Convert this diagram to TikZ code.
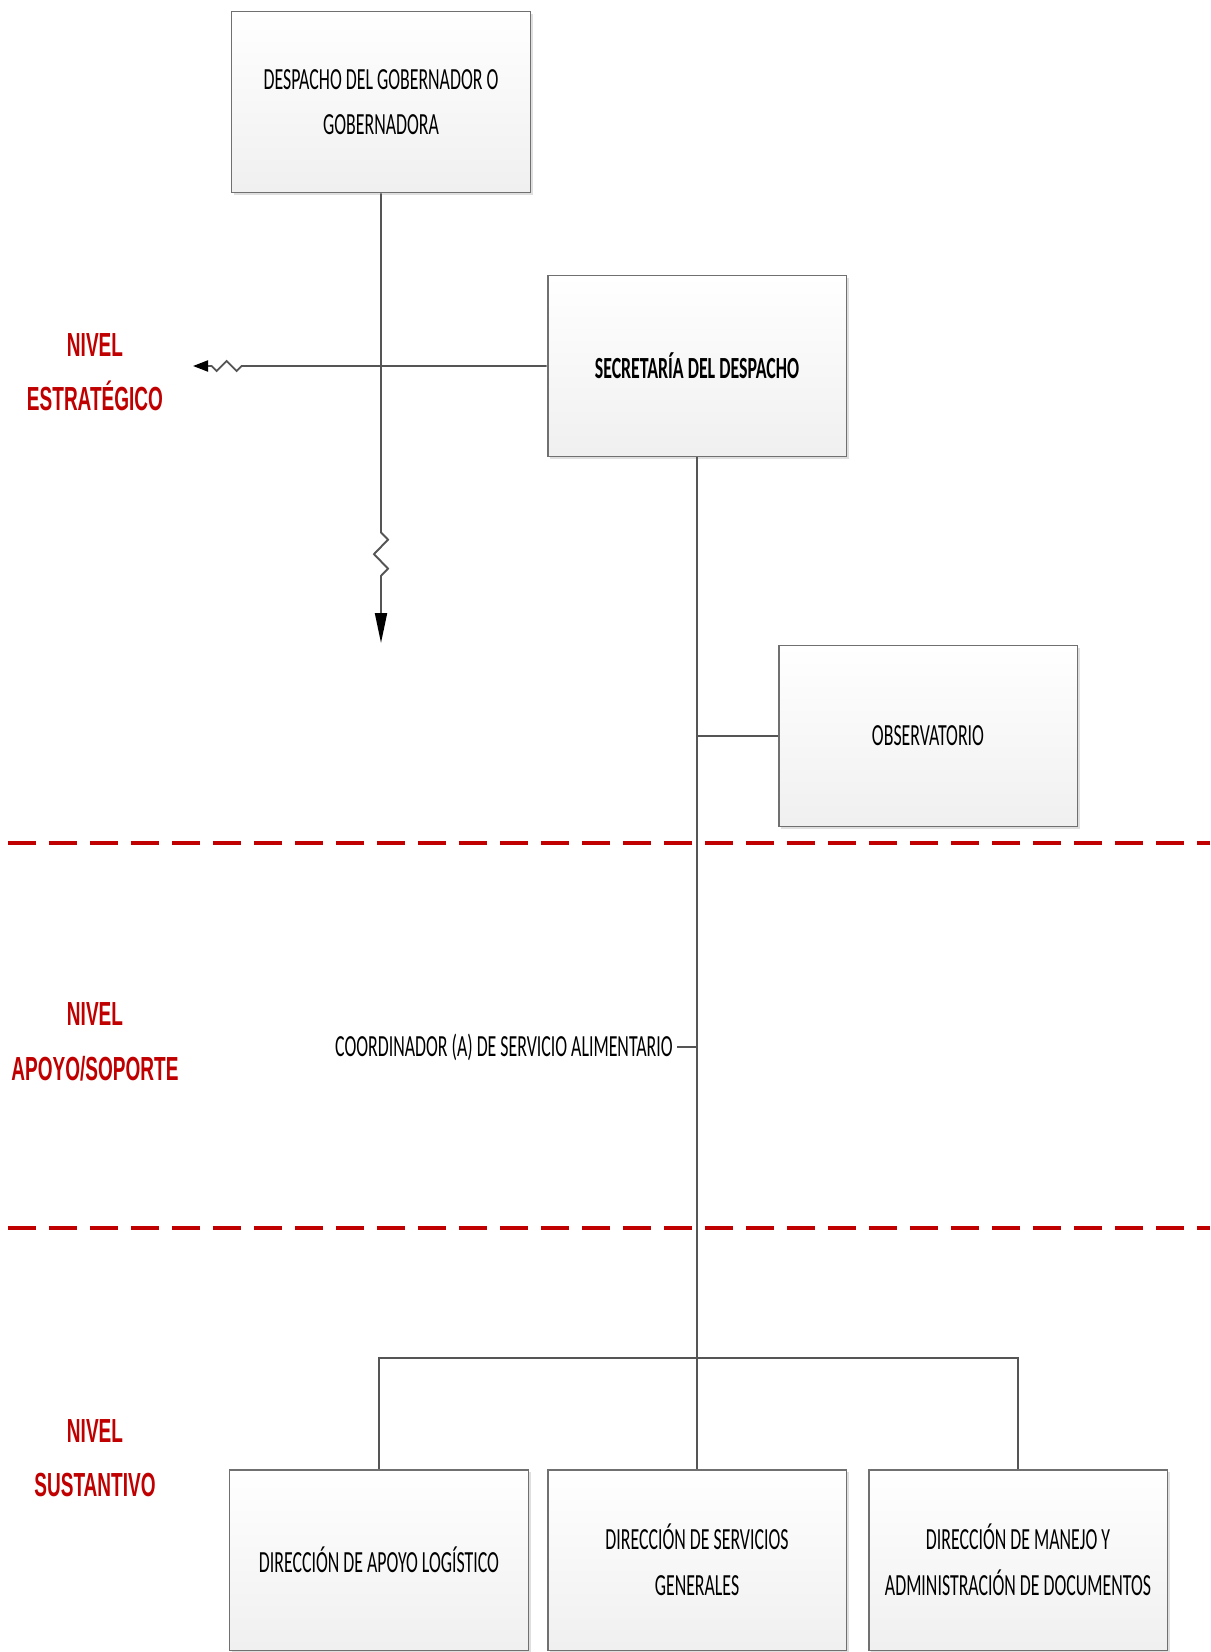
\documentclass[tikz,border=0pt]{standalone}
\usepackage{fontspec}
\setmainfont{Carlito}
\newfontfamily\narrowfont[FakeStretch=0.58]{Carlito}
\newfontfamily\levelfont[FakeStretch=0.57]{Liberation Sans}
\usetikzlibrary{arrows.meta, decorations.pathmorphing, shadows}
\definecolor{levelred}{RGB}{192,0,0}
\definecolor{boxline}{RGB}{112,112,112}
\definecolor{linkline}{RGB}{85,85,85}

\begin{document}
\begin{tikzpicture}[x=0.02cm, y=-0.02cm,
    unit box/.style={rectangle, draw=boxline, line width=1.1pt, top color=white, bottom color=black!6,
        minimum width=5.98cm, minimum height=3.62cm, align=center,
        font=\narrowfont\fontsize{17.5}{26}\selectfont,
        drop shadow={shadow xshift=1.2pt, shadow yshift=-1.2pt, opacity=0.25}},
    level label/.style={align=center, text=levelred, font=\levelfont\bfseries\fontsize{19}{31}\selectfont},
    link/.style={draw=linkline, line width=1.1pt},
    level line/.style={draw=levelred, line width=2.8pt, dash pattern=on 0.56cm off 0.26cm}]

    \useasboundingbox (0,0) rectangle (1210,1652);

    % Units
    \node[unit box] (gob) at (381,102) {DESPACHO DEL GOBERNADOR O\\GOBERNADORA};
    \node[unit box] (sec) at (697,366) {\bfseries SECRETARÍA DEL DESPACHO};
    \node[unit box] (obs) at (928,736) {OBSERVATORIO};
    \node[unit box] (log) at (379,1560) {DIRECCIÓN DE APOYO LOGÍSTICO};
    \node[unit box] (serv) at (697,1560) {DIRECCIÓN DE SERVICIOS\\GENERALES};
    \node[unit box] (doc) at (1018,1560) {DIRECCIÓN DE MANEJO Y\\ADMINISTRACIÓN DE DOCUMENTOS};

    \node[anchor=east, inner sep=0pt, font=\narrowfont\fontsize{17.5}{26}\selectfont] (coord) at (673,1047)
        {COORDINADOR (A) DE SERVICIO ALIMENTARIO};

    % Levels
    \node[level label] (estr) at (95,372) {NIVEL\\ESTRATÉGICO};
    \node[level label] (apoyo) at (95,1042) {NIVEL\\APOYO/SOPORTE};
    \node[level label] (sust) at (95,1458) {NIVEL\\SUSTANTIVO};

    \draw[level line] (8,843) -- (1210,843);
    \draw[level line] (8,1228) -- (1210,1228);

    % Connections
    \coordinate (gobtip) at (381,643);
    \coordinate (sectip) at (193,366);
    \coordinate (busmid) at (697,1358);

    \draw[link, -{Triangle[length=0.6cm, width=0.24cm, color=black]}, decorate,
        decoration={zigzag, amplitude=0.14cm, segment length=0.58cm, pre length=6.78cm, post length=1.06cm}]
        (gob.south) -- (gobtip);
    \draw[link, -{Triangle[length=0.3cm, width=0.22cm, color=black]}, decorate,
        decoration={zigzag, amplitude=0.1cm, segment length=0.4cm, pre length=6.1cm, post length=0.36cm}]
        (sec.west) -- (sectip);

    \draw[link] (sec.south) -- (serv.north);
    \draw[link] (sec.south |- obs.west) -- (obs.west);
    \draw[link] ([xshift=0.08cm]coord.east) -- (sec.south |- coord.east);
    \draw[link] (log.north) |- (busmid) -| (doc.north);

\end{tikzpicture}
\end{document}
